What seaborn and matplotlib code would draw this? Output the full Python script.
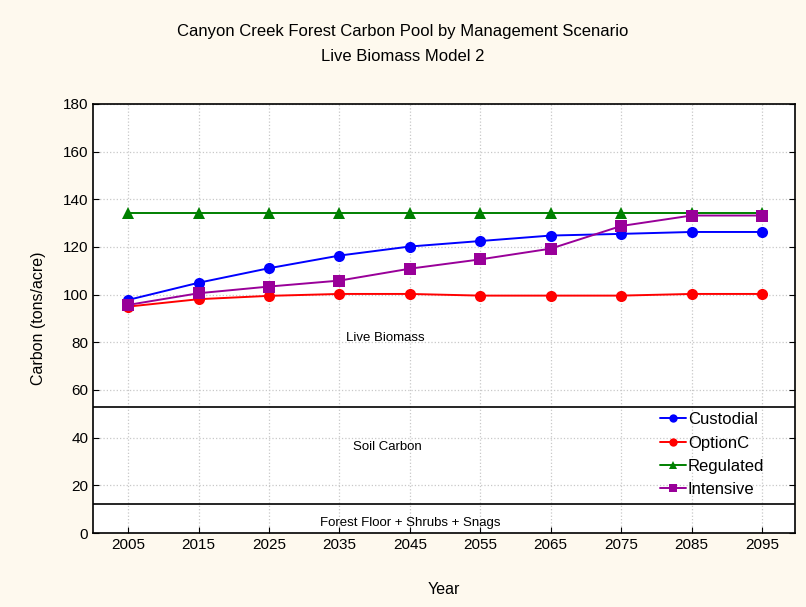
import matplotlib
matplotlib.use("Agg")
import matplotlib.pyplot as plt
import numpy as np
import pandas as pd
import seaborn as sns

years = [2005, 2015, 2025, 2035, 2045, 2055, 2065, 2075, 2085, 2095]
custodial = [97.8, 105.0, 111.1, 116.4, 120.2, 122.5, 124.8, 125.5, 126.3, 126.3]
option_c = [95.0, 98.1, 99.5, 100.3, 100.3, 99.6, 99.6, 99.6, 100.3, 100.3]
regulated = [134.2, 134.2, 134.2, 134.2, 134.2, 134.2, 134.2, 134.2, 134.2, 134.2]
intensive = [95.7, 100.6, 103.4, 105.9, 110.9, 114.8, 119.3, 128.8, 133.2, 133.2]
scenarios = ["Custodial", "OptionC", "Regulated", "Intensive"]
pool_bounds = [53, 12]  # soil carbon top, forest floor top

df = pd.DataFrame({
    "Year": years * 4,
    "Carbon": custodial + option_c + regulated + intensive,
    "Scenario": np.repeat(scenarios, len(years)),
})

sns.set_style("white")
plt.rcParams["font.family"] = ["Liberation Sans", "DejaVu Sans"]
plt.rcParams["text.color"] = "black"
plt.rcParams["axes.labelcolor"] = "black"
plt.rcParams["xtick.color"] = "black"
plt.rcParams["ytick.color"] = "black"

fig = plt.figure(figsize=(8.06, 6.07), dpi=100, facecolor="#fef9ee")
ax = fig.add_axes([0.1154, 0.1219, 0.871, 0.7068])
ax.set_facecolor("white")

colors = {"Custodial": "#0000ff", "OptionC": "#ff0000", "Regulated": "#008000", "Intensive": "#990099"}
marks = {"Custodial": "o", "OptionC": "o", "Regulated": "^", "Intensive": "s"}
sns.lineplot(data=df, x="Year", y="Carbon", hue="Scenario", style="Scenario",
             palette=colors, markers=marks, dashes=False, markersize=8,
             markeredgewidth=0, linewidth=1.4, ax=ax)

for b in pool_bounds:
    ax.axhline(b, color="black", lw=1.2)

ax.text(2041.5, 82, "Live Biomass", ha="center", va="center", fontsize=9.5)
ax.text(2041.8, 36, "Soil Carbon", ha="center", va="center", fontsize=9.5)
ax.text(2045, 4.0, "Forest Floor + Shrubs + Snags", ha="center", va="center", fontsize=9.5)

ax.set_xlim(2000, 2099.7)
ax.set_ylim(0, 180)
ax.set_xticks(years)
ax.set_yticks(range(0, 181, 20))
ax.grid(True, color="#c8c8c8", linestyle=":", linewidth=0.9)
ax.tick_params(direction="in", right=True, left=True, bottom=True, labelsize=11, length=4)
for s in ax.spines.values():
    s.set_color("black")
    s.set_linewidth(1.2)

ax.set_xlabel("Year", fontsize=11.5, labelpad=22)
ax.set_ylabel("Carbon (tons/acre)", fontsize=11.5, labelpad=12)
fig.text(0.5, 0.941, "Canyon Creek Forest Carbon Pool by Management Scenario", ha="center", fontsize=12)
fig.text(0.5, 0.9, "Live Biomass Model 2", ha="center", fontsize=12)

leg = ax.legend(loc="lower right", bbox_to_anchor=(0.968, 0.064), frameon=False, fontsize=12,
                handlelength=1.6, handletextpad=0.1, borderpad=0, labelspacing=0.5)
for h in leg.legend_handles:
    h.set_markersize(6)

fig.savefig("out.png", dpi=100, facecolor=fig.get_facecolor())
